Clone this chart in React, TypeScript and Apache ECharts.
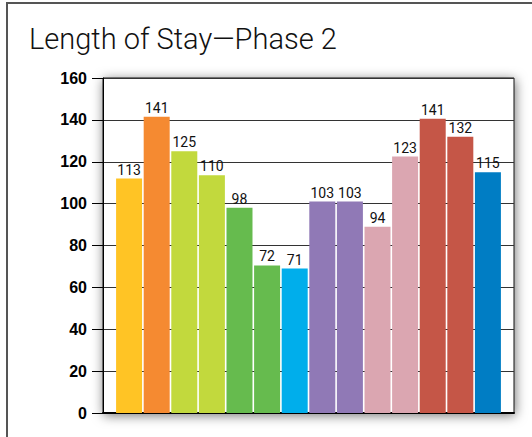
import { useEffect, useRef } from "react";
import * as echarts from "echarts";

const titleText = "Length of Stay—Phase 2";
const barIndex = [0, 1, 2, 3, 4, 5, 6, 7, 8, 9, 10, 11, 12, 13];
const barHeights = [112, 141.5, 125, 113.5, 98, 70.5, 69, 101, 101, 89, 122.5, 140.5, 132, 115];
const barLabels = ["113", "141", "125", "110", "98", "72", "71", "103", "103", "94", "123", "141", "132", "115"];
const barColors = [
  "#FFC425", "#F58A31", "#C2D93D", "#C2D93D", "#66BB4E", "#66BB4E", "#00AEEB",
  "#9079B6", "#9079B6", "#DBA6B1", "#DBA6B1", "#C55647", "#C55647", "#007DC4",
];
const yTicks = [0, 20, 40, 60, 80, 100, 120, 140, 160];

export default function App() {
  const ref = useRef<HTMLDivElement>(null);
  useEffect(() => {
    if (!ref.current) return;
    const chart = echarts.init(ref.current, undefined, { renderer: "svg" });
    chart.setOption({
      animation: false,
      backgroundColor: "#fff",
      title: {
        text: titleText,
        left: 29,
        top: 24,
        padding: 0,
        textStyle: {
          fontFamily: "Roboto, 'Liberation Sans', sans-serif",
          fontWeight: 300,
          fontSize: 29,
          color: "#111",
        },
      },
      graphic: [
        { type: "line", shape: { x1: 6, y1: 3, x2: 532, y2: 3 }, style: { stroke: "#555", lineWidth: 2 } },
        { type: "line", shape: { x1: 7, y1: 3, x2: 7, y2: 437 }, style: { stroke: "#555", lineWidth: 2 } },
      ],
      grid: {
        left: 103,
        top: 78,
        right: 18,
        bottom: 24,
        show: true,
        backgroundColor: "#fff",
        borderColor: "#111",
        borderWidth: 1,
        shadowBlur: 12,
        shadowColor: "rgba(0,0,0,0.55)",
        shadowOffsetX: 1,
        shadowOffsetY: 2,
      },
      xAxis: {
        type: "value",
        min: -0.945,
        max: 13.945,
        axisLine: { show: true, onZero: false, lineStyle: { color: "#000", width: 2 } },
        axisTick: { show: false },
        axisLabel: { show: false },
        splitLine: { show: false },
      },
      yAxis: {
        type: "value",
        min: yTicks[0],
        max: yTicks[yTicks.length - 1],
        interval: 20,
        axisLine: { show: true, onZero: false, lineStyle: { color: "#000", width: 1 } },
        axisTick: { show: true, length: 11, lineStyle: { color: "#000", width: 1 } },
        axisLabel: {
          margin: 16,
          fontFamily: "'Liberation Sans', Arial, sans-serif",
          fontWeight: "bold",
          fontSize: 16,
          color: "#000",
        },
        splitLine: { show: true, lineStyle: { color: "#333", width: 1 } },
      },
      series: [
        {
          type: "bar",
          barWidth: 26,
          data: barIndex.map((x, i) => ({
            value: [x, barHeights[i]],
            itemStyle: { color: barColors[i] },
          })),
          label: {
            show: true,
            position: "top",
            distance: 2,
            formatter: (p: any) => barLabels[p.dataIndex],
            fontFamily: "Roboto, 'Liberation Sans', sans-serif",
            fontSize: 14,
            color: "#111",
          },
        },
      ],
    });
    return () => chart.dispose();
  }, []);
  return (
    <div
      ref={ref}
      style={{ position: "fixed", left: 0, top: 0, width: 532, height: 437 }}
    />
  );
}
